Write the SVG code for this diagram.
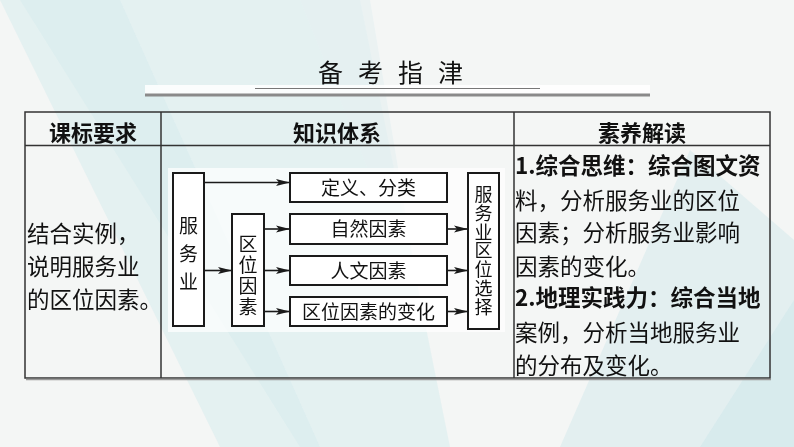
<svg xmlns="http://www.w3.org/2000/svg" width="794" height="447" viewBox="0 0 794 447">
<defs>
<style>
.cjk{font-family:"Noto Sans CJK SC","Noto Sans",sans-serif;fill:#111}
.hd{font-size:22px;font-weight:bold;text-anchor:middle}
.body{font-size:22.5px}
.bold{font-weight:bold}
.dg{font-size:19px;text-anchor:middle}
.vt{writing-mode:vertical-rl;text-anchor:middle}
.box{fill:#fff;stroke:#1a1a1a;stroke-width:2}
.tbl{stroke:#333;stroke-width:1.5;fill:none}
.conn{stroke:#1a1a1a;stroke-width:1.6;fill:none;marker-end:url(#ah)}
</style>
<marker id="ah" markerUnits="userSpaceOnUse" markerWidth="15" markerHeight="8" refX="14" refY="4" orient="auto">
<path d="M0,0.5 L14,4 L0,7.5 L3,4 Z" fill="#1a1a1a"/>
</marker>
</defs>
<rect x="0" y="0" width="794" height="447" fill="#f4f6f5"/>
<g id="background" opacity="0.9">
<polygon points="20,0 360,0 450,447 300,447" fill="#d7ecee" opacity="0.6"/>
<polygon points="0,0 120,0 320,447 220,447" fill="#cfe8ea" opacity="0.45"/>
<polygon points="300,0 370,0 420,300" fill="#e3eff0" opacity="0.6"/>
<polygon points="690,150 794,240 794,447 560,447" fill="#d3eaec" opacity="0.6"/>
<polygon points="794,300 794,447 700,447" fill="#c9e4e7" opacity="0.5"/>
</g>
<g id="title">
<rect x="145" y="85" width="505" height="9" fill="#ffffff" opacity="0.85"/>
<text class="cjk" x="398" y="82" font-size="25" text-anchor="middle" letter-spacing="15">备考指津</text>
<line x1="255" y1="88.5" x2="540" y2="88.5" stroke="#777" stroke-width="1"/>
<line x1="145" y1="95" x2="650" y2="95" stroke="#8a8a8a" stroke-width="3"/>
</g>
<g id="table">
<rect x="25" y="112" width="745" height="266" class="tbl"/>
<line x1="25" y1="145.5" x2="770" y2="145.5" class="tbl"/>
<line x1="161" y1="112" x2="161" y2="378" class="tbl"/>
<line x1="514" y1="112" x2="514" y2="378" class="tbl"/>
<line x1="26" y1="379.5" x2="771" y2="379.5" stroke="#999" stroke-width="1.5"/>
<text class="cjk hd" x="93" y="141">课标要求</text>
<text class="cjk hd" x="337" y="141">知识体系</text>
<text class="cjk hd" x="642" y="141">素养解读</text>
</g>
<g id="col1">
<text class="cjk body" x="27" y="241.5">结合实例，</text>
<text class="cjk body" x="27" y="275">说明服务业</text>
<text class="cjk body" x="27" y="308">的区位因素。</text>
</g>
<g id="col3">
<text class="cjk body bold" x="515" y="174" font-size="23">1.综合思维：综合图文资</text>
<text class="cjk body" x="515" y="209" font-size="23">料，分析服务业的区位</text>
<text class="cjk body" x="515" y="241" font-size="23">因素；分析服务业影响</text>
<text class="cjk body" x="515" y="275" font-size="23">因素的变化。</text>
<text class="cjk body bold" x="515" y="306" font-size="23">2.地理实践力：综合当地</text>
<text class="cjk body" x="515" y="341" font-size="23">案例，分析当地服务业</text>
<text class="cjk body" x="515" y="374" font-size="23">的分布及变化。</text>
</g>
<rect x="168" y="168" width="337" height="164" fill="#ffffff" opacity="0.7"/>
<g id="connectors">
<line class="conn" x1="204" y1="182.5" x2="290" y2="182.5"/>
<line class="conn" x1="204" y1="270.5" x2="232" y2="270.5"/>
<line class="conn" x1="264" y1="229" x2="290" y2="229"/>
<line class="conn" x1="264" y1="270.5" x2="290" y2="270.5"/>
<line class="conn" x1="264" y1="311.5" x2="290" y2="311.5"/>
<line class="conn" x1="447" y1="229" x2="468" y2="229"/>
<line class="conn" x1="447" y1="270.5" x2="468" y2="270.5"/>
<line class="conn" x1="447" y1="311.5" x2="468" y2="311.5"/>
</g>
<g id="node-fuwuye">
<rect class="box" x="173" y="173" width="31" height="153"/>
<text class="cjk vt" x="188.5" y="258" font-size="19" letter-spacing="9">服务业</text>
</g>
<g id="node-quweiyinsu">
<rect class="box" x="232" y="214" width="32" height="112"/>
<text class="cjk vt" x="248" y="276.5" font-size="19" letter-spacing="2">区位因素</text>
</g>
<g id="node-dingyi">
<rect class="box" x="290" y="173" width="157" height="29"/>
<text class="cjk dg" x="368.5" y="195">定义、分类</text>
</g>
<g id="node-ziran">
<rect class="box" x="290" y="214" width="157" height="30"/>
<text class="cjk dg" x="368.5" y="236">自然因素</text>
</g>
<g id="node-renwen">
<rect class="box" x="290" y="256" width="157" height="29"/>
<text class="cjk dg" x="368.5" y="277.5">人文因素</text>
</g>
<g id="node-bianhua">
<rect class="box" x="290" y="297" width="157" height="29"/>
<text class="cjk dg" x="368.5" y="318.5">区位因素的变化</text>
</g>
<g id="node-xuanze">
<rect class="box" x="468" y="173" width="31" height="156"/>
<text class="cjk vt" x="483.5" y="251" font-size="18" letter-spacing="0.8">服务业区位选择</text>
</g>
</svg>
